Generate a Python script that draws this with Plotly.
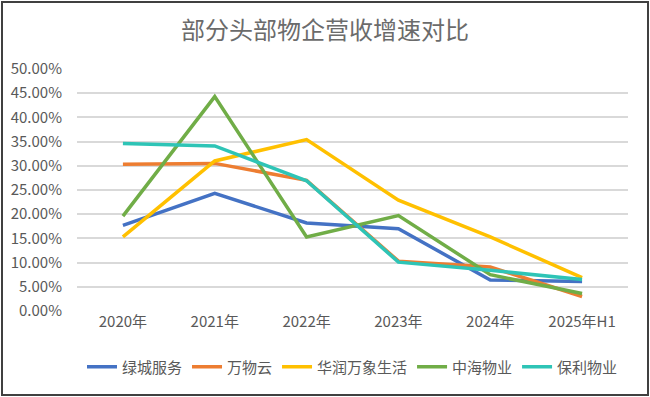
import plotly.graph_objects as go

categories = ["2020年", "2021年", "2022年", "2023年", "2024年", "2025年H1"]
lvcheng = [17.7, 24.3, 18.2, 17.0, 6.4, 6.1]
wanwuyun = [30.3, 30.5, 27.0, 10.3, 9.1, 3.0]
huarun = [15.3, 31.0, 35.4, 22.9, 15.3, 6.9]
zhonghai = [19.6, 44.3, 15.3, 19.7, 7.5, 3.6]
baoli = [34.6, 34.1, 26.9, 10.1, 8.4, 6.5]

series = [
    ("绿城服务", lvcheng, "#4472C4"),
    ("万物云", wanwuyun, "#ED7D31"),
    ("华润万象生活", huarun, "#FFC000"),
    ("中海物业", zhonghai, "#70AD47"),
    ("保利物业", baoli, "#2EC4B6"),
]

fig = go.Figure()
for name, vals, color in series:
    fig.add_trace(go.Scatter(
        x=categories, y=[v / 100 for v in vals], name=name, mode="lines",
        line=dict(color=color, width=3.5),
    ))

W, H = 650, 397
ml, mr, mt, mb = 77, 22, 69, 86
pw, ph = W - ml - mr, H - mt - mb

fig.update_layout(
    width=W, height=H,
    margin=dict(l=ml, r=mr, t=mt, b=mb),
    paper_bgcolor="white", plot_bgcolor="white",
    font=dict(family="Noto Sans CJK SC, Noto Sans, sans-serif", color="#595959", size=14),
    title=dict(text="部分头部物企营收增速对比", x=0.5, xanchor="center", y=1 - 31 / H, yanchor="middle",
               font=dict(size=24, color="#6b6b6b")),
    showlegend=True,
    legend=dict(orientation="h", x=0.5, xanchor="center", y=-(367 - 311) / ph, yanchor="middle",
                font=dict(size=15, color="#595959"), itemwidth=30, tracegroupgap=0),
    xaxis=dict(type="category", showgrid=False, showline=False, zeroline=False, ticks="",
               tickfont=dict(size=15, color="#595959"), range=[-0.5, 5.5]),
    yaxis=dict(range=[0, 0.5], dtick=0.05, tickformat=".2%", showgrid=True, gridcolor="#D9D9D9",
               gridwidth=1.5, zeroline=False, showline=False, ticks="", ticklabelstandoff=14,
               tickfont=dict(size=15, color="#595959")),
    shapes=[dict(type="rect", xref="paper", yref="paper",
                 x0=-(ml - 2) / pw, x1=1 + (mr - 2) / pw,
                 y0=-(mb - 2) / ph, y1=1 + (mt - 2) / ph,
                 line=dict(color="#404040", width=2), fillcolor="rgba(0,0,0,0)", layer="below")],
)

fig.write_html("out.html", config={"displayModeBar": False},
               post_script="document.body.style.margin='0';document.body.style.overflow='hidden';")
